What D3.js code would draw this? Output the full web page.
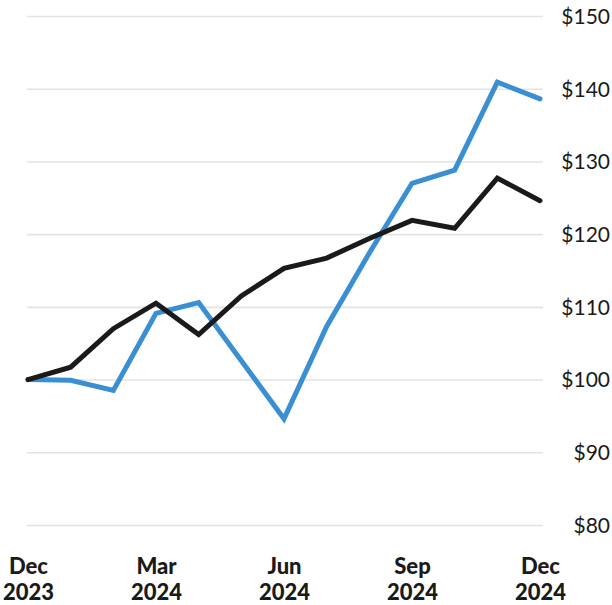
<!DOCTYPE html>
<html>
<head>
<meta charset="utf-8">
<script src="https://cdn.jsdelivr.net/npm/d3@7"></script>
<style>
  html, body { margin: 0; padding: 0; background: #fff; }
  svg { display: block; }
</style>
</head>
<body>
<svg id="chart" width="612" height="605"></svg>
<script>
// Monthly index, Dec 2023 .. Dec 2024
const months = ["Dec 2023","Jan 2024","Feb 2024","Mar 2024","Apr 2024","May 2024","Jun 2024",
                "Jul 2024","Aug 2024","Sep 2024","Oct 2024","Nov 2024","Dec 2024"];
const blueSeries  = [100, 99.9, 98.5, 109.1, 110.6, 102.6, 94.6, 107.3, 117.4, 127.0, 128.8, 140.9, 138.6];
const blackSeries = [100, 101.7, 107.0, 110.5, 106.2, 111.5, 115.3, 116.7, 119.4, 121.9, 120.8, 127.7, 124.6];
const yTicks = [80, 90, 100, 110, 120, 130, 140, 150];
const xTickIdx = [0, 3, 6, 9, 12];
const xTickLines = [["Dec","2023"],["Mar","2024"],["Jun","2024"],["Sep","2024"],["Dec","2024"]];

const svg = d3.select("#chart");
const x = d3.scaleLinear().domain([0, months.length - 1]).range([28, 540]);
const y = d3.scaleLinear().domain([80, 150]).range([525, 16]);
const gridLeft = 27, gridRight = 543;

// gridlines
const grid = svg.append("g")
  .attr("transform", `translate(${gridRight},0)`)
  .call(d3.axisLeft(y).tickValues(yTicks).tickSize(gridRight - gridLeft).tickFormat(""));
grid.select(".domain").remove();
grid.selectAll(".tick line").attr("stroke", "#e3e3e3").attr("stroke-width", 1.6);

// y labels
const yAxis = svg.append("g")
  .attr("transform", `translate(${gridRight},0)`)
  .call(d3.axisRight(y).tickValues(yTicks).tickSize(0).tickFormat(d => "$" + d));
yAxis.select(".domain").remove();
yAxis.selectAll(".tick text")
  .attr("x", 610 - gridRight)
  .attr("dy", "0.35em")
  .attr("text-anchor", "end")
  .attr("fill", "#1a1a1a")
  .style("font-family", "Lato, 'DejaVu Sans', sans-serif")
  .style("font-size", "21px");

// x labels
const xAxis = svg.append("g")
  .attr("transform", "translate(0,525)")
  .call(d3.axisBottom(x).tickValues(xTickIdx).tickSize(0).tickFormat(""));
xAxis.select(".domain").remove();
xAxis.selectAll(".tick").each(function(d, i) {
  const t = d3.select(this).append("text")
    .attr("text-anchor", "middle")
    .attr("fill", "#1a1a1a")
    .style("font-family", "Lato, 'DejaVu Sans', sans-serif")
    .style("font-weight", "900")
    .style("font-size", "22px");
  t.append("tspan").attr("x", 0).attr("y", 49).text(xTickLines[i][0]);
  t.append("tspan").attr("x", 0).attr("y", 75).text(xTickLines[i][1]);
});

const line = d3.line().x((d, i) => x(i)).y(d => y(d));

svg.append("path")
  .datum(blueSeries)
  .attr("d", line)
  .attr("fill", "none")
  .attr("stroke", "#3a8fd3")
  .attr("stroke-width", 5)
  .attr("stroke-linejoin", "miter")
  .attr("stroke-linecap", "round");

svg.append("path")
  .datum(blackSeries)
  .attr("d", line)
  .attr("fill", "none")
  .attr("stroke", "#1b1a1a")
  .attr("stroke-width", 5)
  .attr("stroke-linejoin", "miter")
  .attr("stroke-linecap", "round");
</script>
</body>
</html>
